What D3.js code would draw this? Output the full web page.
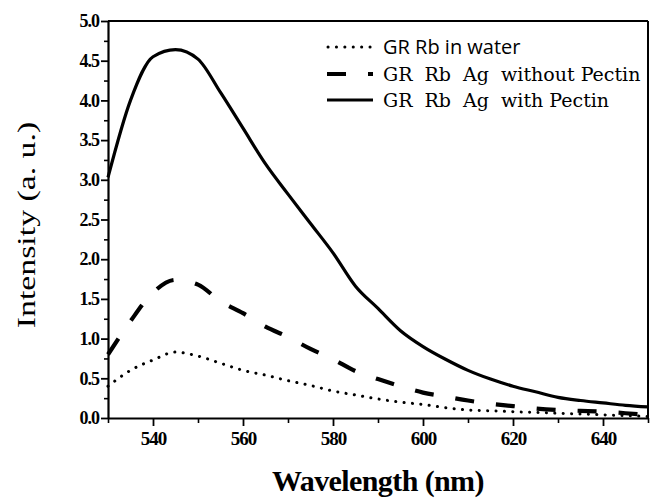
<!DOCTYPE html>
<html><head><meta charset="utf-8">
<script src="https://cdn.jsdelivr.net/npm/d3@7/dist/d3.min.js"></script>
<style>body{margin:0;background:#fff}svg{display:block}</style>
</head><body>
<svg id="c" width="652" height="499"></svg>
<script>
const wavelengths = [530,535,540,545,550,555,560,565,570,575,580,585,590,595,600,605,610,615,620,625,630,635,640,645,650];
const water      = [0.40,0.60,0.73,0.83,0.78,0.69,0.60,0.54,0.47,0.41,0.34,0.29,0.24,0.20,0.17,0.13,0.10,0.09,0.08,0.07,0.06,0.05,0.04,0.03,0.02];
const noPectin   = [0.80,1.22,1.58,1.74,1.68,1.47,1.32,1.15,1.02,0.87,0.74,0.59,0.49,0.40,0.32,0.27,0.22,0.18,0.15,0.12,0.10,0.09,0.08,0.06,0.04];
const withPectin = [3.03,4.00,4.55,4.64,4.52,4.10,3.65,3.20,2.82,2.45,2.08,1.66,1.38,1.10,0.90,0.74,0.60,0.49,0.40,0.33,0.26,0.22,0.19,0.16,0.14];
const seriesNames = ["GR Rb in water","GR  Rb  Ag  without Pectin","GR  Rb  Ag  with Pectin"];
const xTicks = [540,560,580,600,620,640];
const xMinor = [530,550,570,590,610,630,650];
const yTicks = [0,0.5,1,1.5,2,2.5,3,3.5,4,4.5,5];
const yMinor = [0.25,0.75,1.25,1.75,2.25,2.75,3.25,3.75,4.25,4.75];

const svg = d3.select("#c");
const L = 108, R = 648, T = 21, B = 418;
const x = d3.scaleLinear().domain([530,650]).range([L,R]);
const y = d3.scaleLinear().domain([0,5]).range([B,T]);

const serif = "'Liberation Serif','Times New Roman',serif";

// minor ticks
svg.append("g").attr("transform",`translate(0,${B})`)
  .call(d3.axisBottom(x).tickValues(xMinor).tickSize(5).tickFormat(""))
  .call(g=>{g.select(".domain").remove(); g.selectAll("line").attr("stroke","#000").attr("stroke-width",1.6);});
svg.append("g").attr("transform",`translate(${L},0)`)
  .call(d3.axisLeft(y).tickValues(yMinor).tickSize(4).tickFormat(""))
  .call(g=>{g.select(".domain").remove(); g.selectAll("line").attr("stroke","#000").attr("stroke-width",1.6);});

// major axes
const xa = svg.append("g").attr("transform",`translate(0,${B})`)
  .call(d3.axisBottom(x).tickValues(xTicks).tickSize(8).tickPadding(6).tickSizeOuter(0).tickFormat(d3.format("d")));
const ya = svg.append("g").attr("transform",`translate(${L},0)`)
  .call(d3.axisLeft(y).tickValues(yTicks).tickSize(7).tickPadding(2).tickSizeOuter(0).tickFormat(d3.format(".1f")));
[xa,ya].forEach(g=>{
  g.attr("font-family",null);
  g.select(".domain").attr("stroke","#000").attr("stroke-width",2.2);
  g.selectAll(".tick line").attr("stroke","#000").attr("stroke-width",1.8);
  g.selectAll("text").attr("fill","#000").style("font-family",serif).style("font-weight","bold").style("font-size","18px").style("letter-spacing","-1px");
});
xa.selectAll("text").style("font-size","19px");

// frame top/right
svg.append("line").attr("x1",L).attr("x2",R).attr("y1",T).attr("y2",T).attr("stroke","#000").attr("stroke-width",2);
svg.append("line").attr("x1",R).attr("x2",R).attr("y1",T).attr("y2",B).attr("stroke","#000").attr("stroke-width",2);

// lines
const line = vals => d3.line().x((d,i)=>x(wavelengths[i])).y(d=>y(d)).curve(d3.curveMonotoneX)(vals);
const styles = [
  {vals:water, w:3, dash:"0.1,8.3", cap:"round"},
  {vals:noPectin, w:4.2, dash:"19,22", cap:"butt"},
  {vals:withPectin, w:3.2, dash:null, cap:"butt"}
];
styles.forEach(s=>{
  svg.append("path").attr("d",line(s.vals)).attr("fill","none").attr("stroke","#000")
    .attr("stroke-width",s.w).attr("stroke-dasharray",s.dash).attr("stroke-linecap",s.cap);
});

// legend
const ly = [47,74,100];
styles.forEach((s,i)=>{
  svg.append("line").attr("x1",s.cap==="round"?328:327).attr("x2",373).attr("y1",ly[i]).attr("y2",ly[i])
    .attr("stroke","#000").attr("stroke-width",s.w).attr("stroke-dasharray",s.dash).attr("stroke-linecap",s.cap);
  svg.append("text").attr("x",383).attr("y",ly[i]+7).text(seriesNames[i])
    .style("font-family", i===0 ? "'Open Sans','Liberation Sans',sans-serif" : "'DejaVu Serif',serif")
    .style("font-size", i===0 ? "20px" : "19px")
    .style("white-space","pre")
    .attr("fill","#000");
});

// axis titles
svg.append("text").attr("x",(L+R)/2).attr("y",491).attr("text-anchor","middle")
  .style("font-family",serif).style("font-weight","bold").style("font-size","30px").style("letter-spacing","-0.6px")
  .text("Wavelength (nm)");
svg.append("text").attr("transform","translate(35,225) rotate(-90) scale(1.3,1)").attr("text-anchor","middle")
  .style("font-family",serif).style("font-size","26px")
  .text("Intensity (a. u.)");
</script>
</body></html>
